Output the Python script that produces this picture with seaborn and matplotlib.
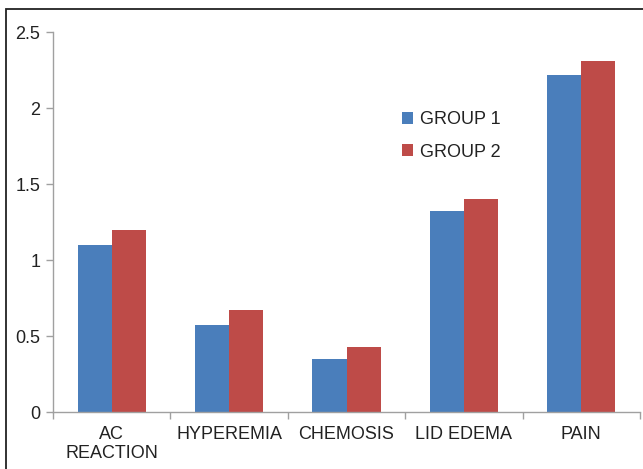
import pandas as pd
import numpy as np
import matplotlib.pyplot as plt
import seaborn as sns
from matplotlib.patches import Rectangle
from matplotlib.ticker import FixedLocator, FuncFormatter

# Data
categories = ['AC\nREACTION', 'HYPEREMIA', 'CHEMOSIS', 'LID EDEMA', 'PAIN']
group1 = [1.10, 0.57, 0.35, 1.32, 2.22]
group2 = [1.20, 0.67, 0.43, 1.40, 2.31]
groups = ['GROUP 1', 'GROUP 2']

df = pd.DataFrame({
    'Category': categories * 2,
    'Value': group1 + group2,
    'Group': [groups[0]] * len(categories) + [groups[1]] * len(categories),
})

sns.set_style('white')
plt.rcParams['font.family'] = ['Liberation Sans', 'DejaVu Sans']

fig = plt.figure(figsize=(6.43, 4.69), dpi=100)
ax = fig.add_axes([53 / 643, 1 - 412 / 469, 587 / 643, 380 / 469])

sns.barplot(data=df, x='Category', y='Value', hue='Group', order=categories,
            palette=['#4A7EBB', '#BE4B48'], width=0.58, saturation=1,
            errorbar=None, linewidth=0, ax=ax)

ax.set_xlim(-0.5, 4.5)
ax.set_ylim(0, 2.5)
ax.set_yticks(np.arange(0, 2.51, 0.5))
ax.yaxis.set_major_formatter(FuncFormatter(lambda v, p: f'{v:g}'))
ax.set_xlabel('')
ax.set_ylabel('')

# ticks between categories on the x axis
ax.xaxis.set_minor_locator(FixedLocator(np.arange(-0.5, 4.6, 1)))
ax.tick_params(axis='x', which='major', length=0, pad=10, labelsize=13, colors='#222222')
ax.tick_params(axis='x', which='minor', length=5, width=1, color='#A0A0A0', bottom=True)
ax.tick_params(axis='y', which='major', length=5, width=1, color='#A0A0A0', left=True,
               labelsize=13, labelcolor='#222222', pad=4)

for s in ['top', 'right']:
    ax.spines[s].set_visible(False)
for s in ['left', 'bottom']:
    ax.spines[s].set_color('#A0A0A0')
    ax.spines[s].set_linewidth(1)

leg = ax.legend(loc='upper left', bbox_to_anchor=(386 / 643, 1 - 95 / 469),
                bbox_transform=fig.transFigure, frameon=False, fontsize=13,
                handlelength=0.6, handleheight=0.6, handletextpad=0.4,
                labelspacing=0.85)
for t in leg.get_texts():
    t.set_color('#222222')

# outer frame
fig.patches.append(Rectangle((6 / 643, -0.1), 1.0, (469 - 9) / 469 + 0.1,
                             transform=fig.transFigure, fill=False,
                             edgecolor='#222222', linewidth=1.3))

fig.savefig('out.png', dpi=100)
